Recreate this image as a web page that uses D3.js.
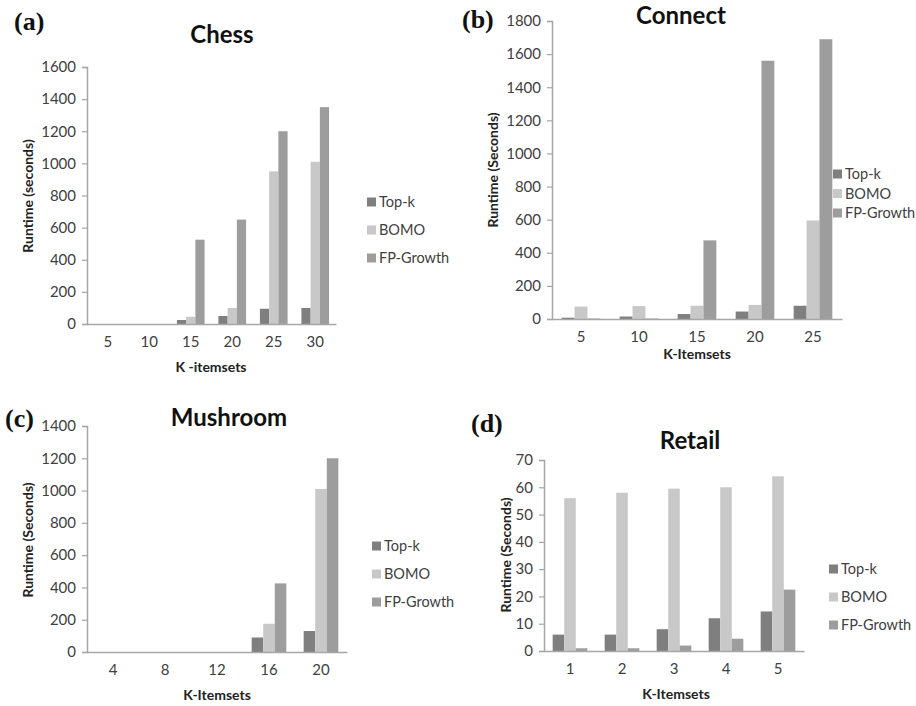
<!DOCTYPE html>
<html>
<head>
<meta charset="utf-8">
<script src="https://cdn.jsdelivr.net/npm/d3@7"></script>
<style>
  html, body { margin: 0; padding: 0; background: #fff; }
  svg { display: block; }
  .tick text { font-family: Lato, "Open Sans", sans-serif; }
</style>
</head>
<body>
<svg id="fig" width="916" height="706"></svg>
<script>
// Series names shared by all four datasets
const seriesNames = ["Top-k", "BOMO", "FP-Growth"];

// Chess
const chessK = ["5", "10", "15", "20", "25", "30"];
const chessTopK = [0, 0, 25, 50, 95, 100];
const chessBOMO = [0, 0, 45, 100, 950, 1010];
const chessFP = [0, 0, 525, 650, 1200, 1350];
const chessTicks = [0, 200, 400, 600, 800, 1000, 1200, 1400, 1600];

// Connect
const connectK = ["5", "10", "15", "20", "25"];
const connectTopK = [8, 15, 30, 45, 80];
const connectBOMO = [75, 78, 80, 85, 595];
const connectFP = [3, 3, 475, 1560, 1690];
const connectTicks = [0, 200, 400, 600, 800, 1000, 1200, 1400, 1600, 1800];

// Mushroom
const mushroomK = ["4", "8", "12", "16", "20"];
const mushroomTopK = [0, 0, 0, 90, 130];
const mushroomBOMO = [0, 0, 0, 175, 1010];
const mushroomFP = [0, 0, 0, 425, 1200];
const mushroomTicks = [0, 200, 400, 600, 800, 1000, 1200, 1400];

// Retail
const retailK = ["1", "2", "3", "4", "5"];
const retailTopK = [6, 6, 8, 12, 14.5];
const retailBOMO = [56, 58, 59.5, 60, 64];
const retailFP = [1, 1, 2, 4.5, 22.5];
const retailTicks = [0, 10, 20, 30, 40, 50, 60, 70];

const colors = ["#7f7f7f", "#c8c8c8", "#9d9d9d"];
const sansFont = "Lato, 'Open Sans', sans-serif";
const serifFont = "'Liberation Serif', 'DejaVu Serif', serif";

const svg = d3.select("#fig");

function drawPanel(p) {
  const g = svg.append("g");
  const x = d3.scaleBand().domain(p.cats).range([p.left, p.right]).padding(0);
  const xs = d3.scaleBand().domain(seriesNames).range([0, x.bandwidth()])
    .paddingInner(0).paddingOuter(0.75);
  const y = d3.scaleLinear().domain([0, d3.max(p.ticks)]).range([p.bottom, p.top]);

  const rows = p.cats.map((c, i) => ({ cat: c, vals: p.series.map(s => s[i]) }));

  // bars
  const grp = g.selectAll("g.cat").data(rows).join("g")
    .attr("transform", d => `translate(${x(d.cat)},0)`);
  grp.selectAll("rect").data(d => d.vals.map((v, j) => ({ v, name: seriesNames[j], j })))
    .join("rect")
    .attr("x", d => xs(d.name))
    .attr("width", xs.bandwidth())
    .attr("y", d => y(d.v))
    .attr("height", d => y(0) - y(d.v))
    .attr("fill", d => colors[d.j]);

  // y axis
  const yAxis = d3.axisLeft(y).tickValues(p.ticks).tickSize(5).tickPadding(6).tickFormat(d3.format("d"));
  const ya = g.append("g").attr("transform", `translate(${p.left},0)`).call(yAxis);
  ya.select(".domain").attr("stroke", "#a6a6a6").attr("stroke-width", 1.5);
  ya.selectAll(".tick line").attr("stroke", "#a6a6a6").attr("stroke-width", 1.2);
  ya.selectAll(".tick text").attr("fill", "#404040").style("font-size", "15px");

  // x axis
  const xAxis = d3.axisBottom(x).tickSize(0).tickPadding(p.xPad);
  const xa = g.append("g").attr("transform", `translate(0,${p.bottom})`).call(xAxis);
  xa.select(".domain").attr("stroke", "#a6a6a6").attr("stroke-width", 1.5);
  xa.selectAll(".tick text").attr("fill", "#404040").style("font-size", "15px");

  // title
  g.append("text").attr("x", p.titleX).attr("y", p.titleY)
    .attr("text-anchor", "middle").attr("font-family", sansFont)
    .attr("font-weight", "bold").attr("font-size", 24).attr("fill", "#111")
    .text(p.title);

  // panel letter
  g.append("text").attr("x", p.letterX).attr("y", p.letterY)
    .attr("font-family", serifFont).attr("font-weight", "bold")
    .attr("font-size", 26).attr("fill", "#111").text(p.letter);

  // axis titles
  g.append("text")
    .attr("transform", `translate(${p.yLabelX},${p.yLabelY}) rotate(-90)`)
    .attr("text-anchor", "middle").attr("font-family", sansFont)
    .attr("font-weight", "bold").attr("font-size", 14).attr("fill", "#222")
    .text(p.yLabel);
  g.append("text").attr("x", p.xLabelX).attr("y", p.xLabelY)
    .attr("text-anchor", "middle").attr("font-family", sansFont)
    .attr("font-weight", "bold").attr("font-size", 14).attr("fill", "#222")
    .text(p.xLabel);

  // legend
  const lg = g.append("g").selectAll("g").data(seriesNames).join("g")
    .attr("transform", (d, i) => `translate(${p.legX},${p.legY + i * p.legStep})`);
  lg.append("rect").attr("x", 0).attr("y", -4.5).attr("width", 9).attr("height", 9)
    .attr("fill", (d, i) => colors[i]);
  lg.append("text").attr("x", 12).attr("y", 0).attr("dy", "0.35em")
    .attr("font-family", sansFont).attr("font-size", 14.5).attr("fill", "#404040")
    .text(d => d);
}

drawPanel({
  cats: chessK, series: [chessTopK, chessBOMO, chessFP], ticks: chessTicks,
  left: 87, right: 336, top: 67, bottom: 324, xPad: 12,
  title: "Chess", titleX: 222, titleY: 43,
  letter: "(a)", letterX: 14, letterY: 30,
  yLabel: "Runtime (seconds)", yLabelX: 33, yLabelY: 196,
  xLabel: "K -itemsets", xLabelX: 211, xLabelY: 372,
  legX: 367, legY: 202, legStep: 28
});

drawPanel({
  cats: connectK, series: [connectTopK, connectBOMO, connectFP], ticks: connectTicks,
  left: 552, right: 842, top: 21, bottom: 319, xPad: 12,
  title: "Connect", titleX: 681, titleY: 24,
  letter: "(b)", letterX: 462, letterY: 28,
  yLabel: "Runtime (Seconds)", yLabelX: 498, yLabelY: 170,
  xLabel: "K-Itemsets", xLabelX: 697, xLabelY: 359,
  legX: 833, legY: 174, legStep: 19.5
});

drawPanel({
  cats: mushroomK, series: [mushroomTopK, mushroomBOMO, mushroomFP], ticks: mushroomTicks,
  left: 87, right: 347, top: 426, bottom: 652, xPad: 12,
  title: "Mushroom", titleX: 229, titleY: 426,
  letter: "(c)", letterX: 5, letterY: 427,
  yLabel: "Runtime (Seconds)", yLabelX: 33, yLabelY: 540,
  xLabel: "K-Itemsets", xLabelX: 217, xLabelY: 700,
  legX: 372, legY: 546, legStep: 28
});

drawPanel({
  cats: retailK, series: [retailTopK, retailBOMO, retailFP], ticks: retailTicks,
  left: 544, right: 804, top: 460, bottom: 651, xPad: 12,
  title: "Retail", titleX: 690, titleY: 449,
  letter: "(d)", letterX: 471, letterY: 432,
  yLabel: "Runtime (Seconds)", yLabelX: 511, yLabelY: 555,
  xLabel: "K-Itemsets", xLabelX: 676, xLabelY: 699,
  legX: 829, legY: 569, legStep: 28
});
</script>
</body>
</html>
